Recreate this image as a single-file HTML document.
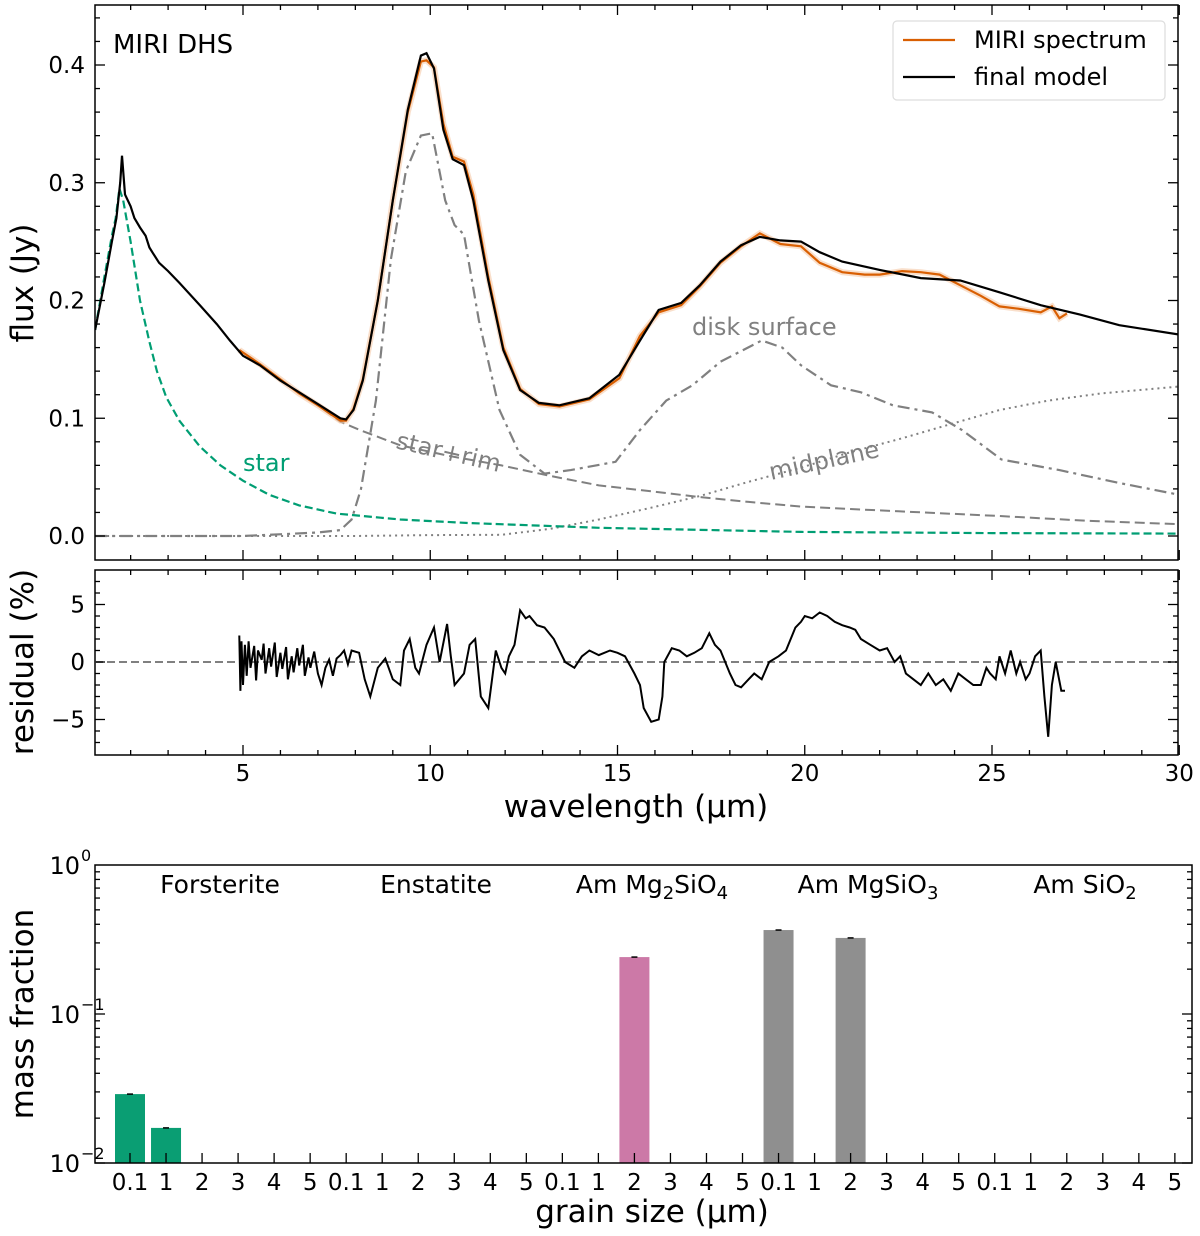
<!DOCTYPE html>
<html><head><meta charset="utf-8">
<style>
html,body{margin:0;padding:0;background:#fff;}
svg{display:block;font-family:"DejaVu Sans","Liberation Sans",sans-serif;}
</style></head>
<body>
<svg id="fig" width="1200" height="1236" viewBox="0 0 1200 1236" xmlns="http://www.w3.org/2000/svg">
<defs>
<clipPath id="clipTop"><rect x="95" y="5" width="1083" height="555"/></clipPath>
<clipPath id="clipRes"><rect x="95" y="570" width="1083" height="185"/></clipPath>
</defs>
<g id="topPanel"></g>
<g id="resPanel"></g>
<g id="botPanel"></g>
</svg>
<script>
// ---------- data: spectrum panel ----------
const modelWave = [1.05,1.3,1.5,1.62,1.72,1.77,1.85,2.0,2.1,2.25,2.4,2.5,2.6,2.76,3.0,3.3,3.85,4.3,4.65,5.0,5.45,6.0,6.5,7.0,7.6,7.75,7.95,8.2,8.6,9.0,9.4,9.75,9.9,10.1,10.35,10.6,10.9,11.15,11.55,11.95,12.4,12.9,13.45,14.25,15.05,15.6,16.1,16.7,17.2,17.75,18.3,18.8,19.35,19.9,20.4,21.0,22.0,23.1,24.15,25.2,26.3,27.35,28.4,30.0];
const modelFlux = [0.175,0.215,0.25,0.27,0.30,0.323,0.29,0.28,0.27,0.262,0.255,0.245,0.24,0.232,0.225,0.215,0.196,0.18,0.166,0.153,0.145,0.132,0.122,0.112,0.10,0.099,0.107,0.132,0.20,0.285,0.362,0.408,0.41,0.397,0.345,0.32,0.315,0.285,0.217,0.158,0.124,0.113,0.111,0.117,0.137,0.166,0.192,0.198,0.213,0.233,0.247,0.254,0.251,0.25,0.241,0.233,0.226,0.219,0.217,0.207,0.196,0.188,0.179,0.171];
const miriWave = [4.9,5.45,6.0,6.5,7.0,7.6,7.75,7.95,8.2,8.6,9.0,9.4,9.75,9.9,10.1,10.35,10.6,10.9,11.15,11.55,11.95,12.4,12.9,13.45,14.25,15.05,15.6,16.1,16.7,17.2,17.75,18.3,18.8,19.35,19.9,20.4,21.0,21.6,22.0,22.6,23.1,23.6,24.15,24.7,25.2,25.7,26.3,26.6,26.8,27.0];
const miriFlux = [0.158,0.146,0.133,0.121,0.111,0.098,0.098,0.108,0.133,0.20,0.285,0.36,0.403,0.404,0.398,0.35,0.322,0.318,0.29,0.22,0.16,0.125,0.112,0.110,0.116,0.134,0.17,0.19,0.196,0.212,0.232,0.246,0.257,0.248,0.246,0.232,0.224,0.222,0.222,0.225,0.224,0.222,0.213,0.204,0.195,0.193,0.19,0.195,0.185,0.189];
const starWave = [1.05,1.3,1.5,1.6,1.7,1.8,2.0,2.25,2.5,2.7,2.95,3.3,3.85,4.4,5.0,5.7,6.5,7.5,9.2,11.0,14.5,19.9,25.0,30.0];
const starFlux = [0.175,0.22,0.255,0.27,0.295,0.285,0.25,0.2,0.165,0.14,0.118,0.098,0.076,0.06,0.047,0.035,0.026,0.019,0.014,0.011,0.007,0.0035,0.0025,0.002];
const rimWave = [6.5,7.0,7.6,8.2,9.2,10.5,11.9,13.2,14.5,15.9,17.2,18.5,19.9,22.5,25.2,27.5,30.0];
const rimFlux = [0.122,0.111,0.097,0.089,0.077,0.068,0.06,0.051,0.043,0.038,0.033,0.029,0.025,0.021,0.017,0.013,0.010];
const diskWave = [1.05,5.0,7.0,7.6,7.9,8.15,8.55,8.95,9.35,9.75,10.05,10.4,10.65,10.9,11.3,11.85,12.4,13.05,13.75,14.95,15.6,16.3,17.0,17.75,18.85,19.4,19.9,20.7,21.5,22.35,23.4,24.2,25.25,26.8,28.4,30.0];
const diskFlux = [0.0,0.0,0.003,0.005,0.014,0.04,0.115,0.235,0.31,0.34,0.342,0.285,0.264,0.256,0.183,0.107,0.069,0.053,0.056,0.063,0.09,0.115,0.128,0.148,0.166,0.16,0.145,0.128,0.122,0.111,0.105,0.09,0.065,0.056,0.045,0.035];
const midWave = [1.05,8.0,10.0,11.9,13.2,14.5,15.9,17.2,18.5,19.9,21.2,22.6,23.9,25.2,26.5,27.9,30.0];
const midFlux = [0.0,0.0,0.0008,0.001,0.006,0.014,0.024,0.034,0.046,0.058,0.071,0.083,0.095,0.107,0.115,0.121,0.127];
const xTicks = [5,10,15,20,25,30];
const yTicks = [0.0,0.1,0.2,0.3,0.4];
// ---------- data: residual panel ----------
const resWave = [4.9,4.93,4.96,5.0,5.05,5.1,5.15,5.2,5.3,5.35,5.4,5.5,5.55,5.6,5.7,5.75,5.85,5.9,6.0,6.05,6.15,6.2,6.3,6.35,6.45,6.5,6.6,6.65,6.75,6.8,6.9,7.0,7.1,7.2,7.3,7.4,7.5,7.6,7.7,7.8,7.9,8.1,8.25,8.4,8.6,8.8,9.0,9.2,9.3,9.45,9.6,9.7,9.9,10.1,10.25,10.45,10.55,10.65,10.9,11.05,11.2,11.35,11.55,11.75,11.9,12.0,12.1,12.25,12.4,12.55,12.65,12.85,13.05,13.3,13.6,13.85,14.05,14.25,14.5,14.8,15.0,15.2,15.45,15.6,15.7,15.9,16.1,16.2,16.25,16.45,16.65,16.85,17.05,17.25,17.45,17.6,17.75,18.0,18.15,18.3,18.5,18.65,18.85,19.05,19.3,19.5,19.75,19.9,20.0,20.2,20.4,20.6,20.8,21.0,21.2,21.35,21.5,21.75,22.0,22.2,22.4,22.55,22.7,22.9,23.1,23.3,23.5,23.7,23.9,24.1,24.3,24.5,24.7,24.85,24.95,25.1,25.2,25.35,25.5,25.65,25.75,25.9,26.0,26.15,26.3,26.4,26.5,26.6,26.7,26.85,26.95,27.0];
const resVal = [2.3,-2.5,1.8,-2.0,1.5,-1.2,1.8,-0.5,1.4,-1.6,1.0,0.2,1.6,-1.0,1.2,-0.4,1.7,-1.3,0.8,-0.6,1.3,-1.5,0.5,-0.9,1.2,-0.3,1.5,-1.2,0.4,-0.5,0.9,-1.0,-2.0,-0.5,0.2,-1.2,0.3,0.6,1.0,-0.2,1.0,0.8,-1.5,-3.0,-0.5,0.3,-1.5,-2.0,1.0,2.0,-0.5,-1.0,1.5,3.0,0.0,3.3,0.5,-2.0,-1.0,1.5,2.0,-3.0,-4.0,1.0,-0.5,-1.0,0.5,1.5,4.5,3.8,4.0,3.2,3.0,2.0,0.0,-0.5,0.5,1.0,0.6,1.0,0.8,0.5,-1.0,-2.0,-4.0,-5.2,-5.0,-3.0,0.0,1.2,1.0,0.5,0.8,1.2,2.5,1.5,1.0,-1.0,-2.0,-2.2,-1.5,-1.0,-1.5,0.0,0.5,1.0,3.0,3.5,4.0,3.8,4.3,4.0,3.5,3.2,3.0,2.8,2.0,1.5,1.0,1.2,0.0,0.5,-1.0,-1.5,-2.0,-1.0,-2.0,-1.5,-2.5,-1.0,-1.5,-2.0,-2.0,-0.5,-1.0,-1.5,0.5,-1.0,1.0,-1.0,0.0,-1.5,-1.0,0.5,1.0,-3.0,-6.5,-2.0,0.0,-2.5,-2.5];
const resTicks = [-5,0,5];
// ---------- data: mass fraction panel ----------
const species = ["Forsterite","Enstatite","Am Mg2SiO4","Am MgSiO3","Am SiO2"];
const grainSizes = ["0.1","1","2","3","4","5"];
const forsteriteVals = [0.029,0.0172,0,0,0,0];
const enstatiteVals = [0,0,0,0,0,0];
const amMg2SiO4Vals = [0,0,0.241,0,0,0];
const amMgSiO3Vals = [0.366,0,0.324,0,0,0];
const amSiO2Vals = [0,0,0,0,0,0];
</script>
<script>
const NS="http://www.w3.org/2000/svg";
function mk(parent,tag,attrs,text){const el=document.createElementNS(NS,tag);for(const k in attrs)el.setAttribute(k,attrs[k]);if(text!==undefined)el.textContent=text;parent.appendChild(el);return el;}
const xS=w=>243+(w-5)*37.45;
const yT=f=>536-f*1177.5;
const yR=r=>662-r*11.5;
const xB=i=>130+i*36.03;
const yB=v=>1163-(Math.log10(v)+2)*149;
const pts=(ws,vs,ys)=>ws.map((w,i)=>xS(w).toFixed(1)+","+ys(vs[i]).toFixed(1)).join(" ");

// ===== top panel =====
const topG=document.getElementById('topPanel');
const gT=mk(topG,'g',{'clip-path':'url(#clipTop)'});
let e;
e=mk(gT,'polyline',{points:pts(midWave,midFlux,yT),fill:'none',stroke:'#808080','stroke-width':2,'stroke-dasharray':'2,4'});

e=mk(gT,'polyline',{points:pts(rimWave,rimFlux,yT),fill:'none',stroke:'#808080','stroke-width':2,'stroke-dasharray':'10,5'});

e=mk(gT,'polyline',{points:pts(diskWave,diskFlux,yT),fill:'none',stroke:'#808080','stroke-width':2.2,'stroke-dasharray':'12,5,3,5'});

e=mk(gT,'polyline',{points:pts(starWave,starFlux,yT),fill:'none',stroke:'#009e73','stroke-width':2.2,'stroke-dasharray':'8,4'});

e=mk(gT,'polyline',{points:pts(miriWave,miriFlux,yT),fill:'none',stroke:'#f5c9a8','stroke-width':6,'opacity':0.6});

e=mk(gT,'polyline',{points:pts(miriWave,miriFlux,yT),fill:'none',stroke:'#d95f02','stroke-width':2.2});

e=mk(gT,'polyline',{points:pts(modelWave,modelFlux,yT),fill:'none',stroke:'#000','stroke-width':2.2});


function axesBox(p,x,y,w,h,name){const r=mk(p,'rect',{x:x,y:y,width:w,height:h,fill:'none',stroke:'#000','stroke-width':1.5});}
axesBox(topG,95,5,1083,555,'spectrum-axes-frame');
for(let w=2;w<=30;w++){const major=w%5===0;const L=major?10:5;const x=xS(w);
 mk(topG,'line',{x1:x,x2:x,y1:560,y2:560-L,stroke:'#000','stroke-width':1.3});
 mk(topG,'line',{x1:x,x2:x,y1:5,y2:5+L,stroke:'#000','stroke-width':1.3});
 mk(topG,'line',{x1:x,x2:x,y1:755,y2:755-L,stroke:'#000','stroke-width':1.3});
 mk(topG,'line',{x1:x,x2:x,y1:570,y2:570+L,stroke:'#000','stroke-width':1.3});}
for(let k=0;k<=22;k++){const f=k*0.02;const major=k%5===0;const L=major?10:5;const y=yT(f);if(y<5)continue;
 mk(topG,'line',{x1:95,x2:95+L,y1:y,y2:y,stroke:'#000','stroke-width':1.3});
 mk(topG,'line',{x1:1178,x2:1178-L,y1:y,y2:y,stroke:'#000','stroke-width':1.3});}
yTicks.forEach(v=>{e=mk(topG,'text',{x:85,y:yT(v)+8,'text-anchor':'end','font-size':23},v.toFixed(1));
 });
e=mk(topG,'text',{x:0,y:0,'font-size':31,'text-anchor':'middle',transform:'translate(33,283) rotate(-90)'},'flux (Jy)');

e=mk(topG,'text',{x:113,y:53,'font-size':26},'MIRI DHS');

e=mk(topG,'text',{x:243,y:471,'font-size':24,fill:'#009e73'},'star');

e=mk(topG,'text',{x:0,y:0,'font-size':24,fill:'#808080',transform:'translate(395,448) rotate(13)'},'star+rim');

e=mk(topG,'text',{x:692,y:335,'font-size':24,fill:'#808080'},'disk surface');

e=mk(topG,'text',{x:0,y:0,'font-size':24,fill:'#808080',transform:'translate(771,480) rotate(-12)'},'midplane');

const lg=mk(topG,'g',{});


mk(lg,'rect',{x:893,y:21,width:272,height:79,rx:4,fill:'#fff',stroke:'#ddd','stroke-width':1.2});
e=mk(lg,'line',{x1:903,x2:955,y1:40,y2:40,stroke:'#d95f02','stroke-width':2.2});

mk(lg,'text',{x:974,y:48,'font-size':24},'MIRI spectrum');
e=mk(lg,'line',{x1:903,x2:955,y1:77,y2:77,stroke:'#000','stroke-width':2.2});

mk(lg,'text',{x:974,y:85,'font-size':24},'final model');

// ===== residual panel =====
const resG=document.getElementById('resPanel');
axesBox(resG,95,570,1083,185,'residual-axes-frame');
const gR=mk(resG,'g',{'clip-path':'url(#clipRes)'});
e=mk(gR,'line',{x1:95,x2:1178,y1:yR(0),y2:yR(0),stroke:'#808080','stroke-width':2,'stroke-dasharray':'8,4'});

e=mk(gR,'polyline',{points:pts(resWave,resVal,yR),fill:'none',stroke:'#000','stroke-width':2});

for(let r=-7;r<=7;r++){const major=r%5===0;const L=major?10:5;const y=yR(r);if(y<570||y>755)continue;
 mk(resG,'line',{x1:95,x2:95+L,y1:y,y2:y,stroke:'#000','stroke-width':1.3});
 mk(resG,'line',{x1:1178,x2:1178-L,y1:y,y2:y,stroke:'#000','stroke-width':1.3});}
resTicks.forEach(v=>{e=mk(resG,'text',{x:85,y:yR(v)+8,'text-anchor':'end','font-size':23},v===-5?'\u22125':String(v));
 });
xTicks.forEach(v=>{e=mk(resG,'text',{x:xS(v),y:781,'text-anchor':'middle','font-size':23},String(v));
 });
e=mk(resG,'text',{x:0,y:0,'font-size':31,'text-anchor':'middle',transform:'translate(33,662) rotate(-90)'},'residual (%)');

e=mk(resG,'text',{x:636,y:817,'font-size':31,'text-anchor':'middle'},'wavelength (\u03bcm)');


// ===== bottom panel =====
const botG=document.getElementById('botPanel');
const allVals=[forsteriteVals,enstatiteVals,amMg2SiO4Vals,amMgSiO3Vals,amSiO2Vals];
const colors=['#0a9e73','#0a9e73','#cc79a7','#8f8f8f','#8f8f8f'];
allVals.forEach((arr,s)=>arr.forEach((v,j)=>{if(v<=0)return;const i=s*6+j;const y=yB(v);
 const b=mk(botG,'rect',{x:xB(i)-15,y:y,width:30,height:1163-y,fill:colors[s]});
 
 
 mk(botG,'line',{x1:xB(i)-3,x2:xB(i)+3,y1:y,y2:y,stroke:'#000','stroke-width':1.5});}));
axesBox(botG,95,865,1097,298,'mass-fraction-axes-frame');
for(let i=0;i<30;i++){const x=xB(i);
 mk(botG,'line',{x1:x,x2:x,y1:1163,y2:1153,stroke:'#000','stroke-width':1.3});
 e=mk(botG,'text',{x:x,y:1190,'text-anchor':'middle','font-size':23},grainSizes[i%6]);
 }
for(let d=-2;d<0;d++){for(let m=1;m<=9;m++){const v=m*Math.pow(10,d);const y=yB(v);const L=m===1?10:5;
 mk(botG,'line',{x1:95,x2:95+L,y1:y,y2:y,stroke:'#000','stroke-width':1.3});
 mk(botG,'line',{x1:1192,x2:1192-L,y1:y,y2:y,stroke:'#000','stroke-width':1.3});}}
[[-2,'\u22122'],[-1,'\u22121'],[0,'0']].forEach(([d,s])=>{const y=yB(Math.pow(10,d));
 e=mk(botG,'text',{x:80,y:y+9,'text-anchor':'end','font-size':24},'10');
 
 mk(botG,'text',{x:81,y:y-4,'font-size':16},s);});
const specLabels=[['Forsterite'],['Enstatite'],['Am Mg','2','SiO','4'],['Am MgSiO','3'],['Am SiO','2']];
const specX=[220,436,652,868,1085];
specLabels.forEach((parts,s)=>{const t=mk(botG,'text',{x:specX[s],y:893,'text-anchor':'middle','font-size':25});
 
 
 parts.forEach((p,k)=>{mk(t,'tspan',k%2===1?{'font-size':18,dy:6}:{dy:k>0?-6:0},p);});});
e=mk(botG,'text',{x:0,y:0,'font-size':31,'text-anchor':'middle',transform:'translate(33,1014) rotate(-90)'},'mass fraction');

e=mk(botG,'text',{x:652,y:1222,'font-size':31,'text-anchor':'middle'},'grain size (\u03bcm)');

</script>
</body></html>
